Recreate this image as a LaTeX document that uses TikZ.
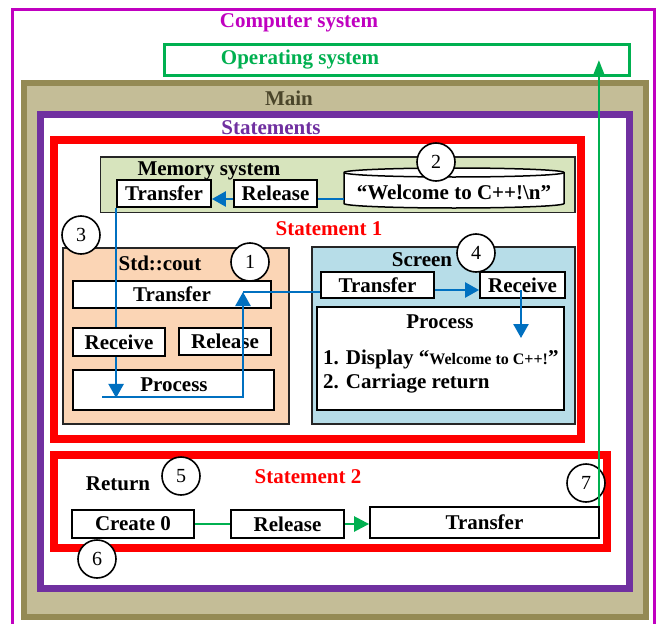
\documentclass[tikz,border=0pt]{standalone}
\usepackage{fontspec}
\setmainfont{Liberation Serif}
\usetikzlibrary{arrows.meta,calc}
\definecolor{cmag}{HTML}{C000C0}
\definecolor{cgreen}{HTML}{00B050}
\definecolor{mainfill}{HTML}{C4BD97}
\definecolor{mainborder}{HTML}{948A54}
\definecolor{maintext}{HTML}{4A452A}
\definecolor{cpurple}{HTML}{7030A0}
\definecolor{cred}{HTML}{FF0000}
\definecolor{memfill}{HTML}{D7E4BD}
\definecolor{coutfill}{HTML}{FBD5B5}
\definecolor{scrfill}{HTML}{B7DDE8}
\definecolor{cblue}{HTML}{0070C0}
\begin{document}
\begin{tikzpicture}[x=1pt,y=-1pt,
  lbl/.style={inner sep=0pt, text depth=0pt, font=\bfseries\fontsize{21}{24}\selectfont},
  box/.style={lbl, draw=black, line width=1.8pt, fill=white},
  cont/.style={draw=black!85, line width=1.8pt},
  circ/.style={circle, draw=black, line width=1.6pt, fill=white, minimum size=38pt, inner sep=0pt, font=\fontsize{20}{22}\selectfont},
  bl/.style={draw=cblue, line width=2.5pt},
  gr/.style={draw=cgreen, line width=2.5pt},
  btip/.style={-{Triangle[length=14pt,width=15pt]}},
  gtip/.style={-{Triangle[length=15pt,width=15pt]}},
  stip/.style={-{Triangle[length=14pt,width=10pt]}}]
\useasboundingbox (0,0) rectangle (657,624);
\clip (0,0) rectangle (657,624);
\fill[white] (0,0) rectangle (657,624);
% Computer system
\draw[cmag, line width=3pt] (12,9.5) rectangle (654.5,640);
\node[lbl, text=cmag] (cs) at (299,21) {Computer system};
% Operating system
\node[draw=cgreen, line width=3pt, minimum width=464.5pt, minimum height=31pt, inner sep=0pt] (os) at (396.75,60) {};
\node[lbl, text=cgreen] (ostext) at (300,57) {Operating system};
% Main
\draw[draw=mainborder, fill=mainfill, line width=6pt] (24,83) rectangle (646,617);
\node[lbl, text=maintext] (main) at (289,98) {Main};
% Statements
\draw[draw=cpurple, fill=white, line width=7pt] (40,114.5) rectangle (629.5,588);
\node[lbl, text=cpurple] (stmts) at (271,128) {Statements};
% Statement 1
\draw[draw=cred, line width=7.5pt] (54,140) rectangle (581,439);
\node[lbl, text=cred] (st1) at (329,229) {Statement 1};
% Memory system
\draw[cont, fill=memfill] (100.5,157) rectangle (575,212.5);
\node[lbl] (memlbl) at (209,169) {Memory system};
\node[box, minimum width=94pt, minimum height=27pt] (memT) at (164,193.5) {Transfer};
\node[box, minimum width=83pt, minimum height=27pt] (memR) at (275.5,193.5) {Release};
\draw[draw=black, line width=1.5pt, fill=white] (344,172.5) -- (344,203.5) arc[start angle=180, end angle=360, x radius=110, y radius=-4.5] -- (564,172.5) arc[start angle=0, end angle=180, x radius=110, y radius=-4.5] -- cycle;
\draw[draw=black, line width=1.5pt] (344,172.5) arc[start angle=180, end angle=360, x radius=110, y radius=-4.5];
\node[lbl, minimum width=220pt, minimum height=36pt] (cyl) at (454,192) {“Welcome to C++!\textbackslash n”};
\coordinate (m1) at ($(memR.east)+(0,5.5)$);
\draw[bl] (cyl.west |- m1) -- (m1);
\draw[bl, btip] ($(memR.west)+(0,5.5)$) -- ($(memT.east)+(0,5.5)$);
% Std::cout
\draw[cont, fill=coutfill] (63,248) rectangle (289,424);
\node[lbl] (coutlbl) at (160,263) {Std::cout};
\node[box, minimum width=198pt, minimum height=27pt] (coutT) at (172,294.5) {Transfer};
\node[box, minimum width=92pt, minimum height=27pt] (coutRel) at (225,341.5) {Release};
\node[box, minimum width=201pt, minimum height=40pt] (coutP) at (173.5,390) {};
\node[lbl] (coutPlbl) at (174,385) {Process};
% Screen
\draw[cont, fill=scrfill] (312,247) rectangle (575,424);
\node[lbl] (scrlbl) at (422,260) {Screen};
\node[box, minimum width=113pt, minimum height=26pt] (scrT) at (377.5,285) {Transfer};
\node[box, minimum width=85pt, minimum height=26pt] (scrR) at (522.5,285) {Receive};
\node[box, minimum width=247pt, minimum height=103pt] (scrP) at (440.5,358.5) {};
\node[lbl] (scrPlbl) at (440,322) {Process};
\node[lbl, anchor=west] (l1) at (323,357) {1. Display “{\fontsize{16}{18}\selectfont Welcome to C++!}”};
\node[lbl, anchor=west] (l2) at (323,381) {2. Carriage return};
% blue flows
\coordinate (pA) at ($(memT.south west)+(0,190)$);
\draw[bl, btip] (memT.south west) -- (pA);
\coordinate (pB) at (102,397);
\coordinate (pC) at (243,397);
\coordinate (pD) at (243,292);
\draw[bl, btip] (pB) -- (pC) -- (pD);
\draw[bl] (pD) -- (pD -| scrT.west);
\draw[bl, btip] ($(scrT.east)+(0,5)$) -- ($(scrR.west)+(0,5)$);
\draw[bl, btip] ($(scrR.center)+(-1.5,5)$) -- ($(scrR.center)+(-1.5,53)$);
\node[box, minimum width=92pt, minimum height=28pt] (coutRec) at (119,342) {Receive};
% Statement 2
\draw[draw=cred, line width=8pt] (54,455) rectangle (607,548);
\node[lbl] (ret) at (118,484) {Return};
\node[lbl, text=cred] (st2) at (308,477) {Statement 2};
\node[box, minimum width=122pt, minimum height=28pt] (c0) at (133,524) {Create 0};
\node[box, minimum width=113pt, minimum height=28pt] (rel2) at (287.5,524) {Release};
\node[box, minimum width=229pt, minimum height=31pt] (tr2) at (484.5,522.5) {Transfer};
\draw[gr] (c0.east) -- (rel2.west);
\draw[gr, gtip] (rel2.east) -- ($(tr2.west)+(0,1.5)$);
% circles
\node[circ] (n1) at (250,262) {1};
\node[circ] (n2) at (436,162) {2};
\node[circ] (n3) at (81,235) {3};
\node[circ] (n4) at (476,253) {4};
\node[circ] (n5) at (181,476) {5};
\node[circ] (n6) at (97,559) {6};
\node[circ] (n7) at (586,483) {7};
\coordinate (g1) at ($(tr2.north east)+(-1,0)$);
\draw[gr, stip] (g1) -- (g1 |- os.center);
\end{tikzpicture}
\end{document}
